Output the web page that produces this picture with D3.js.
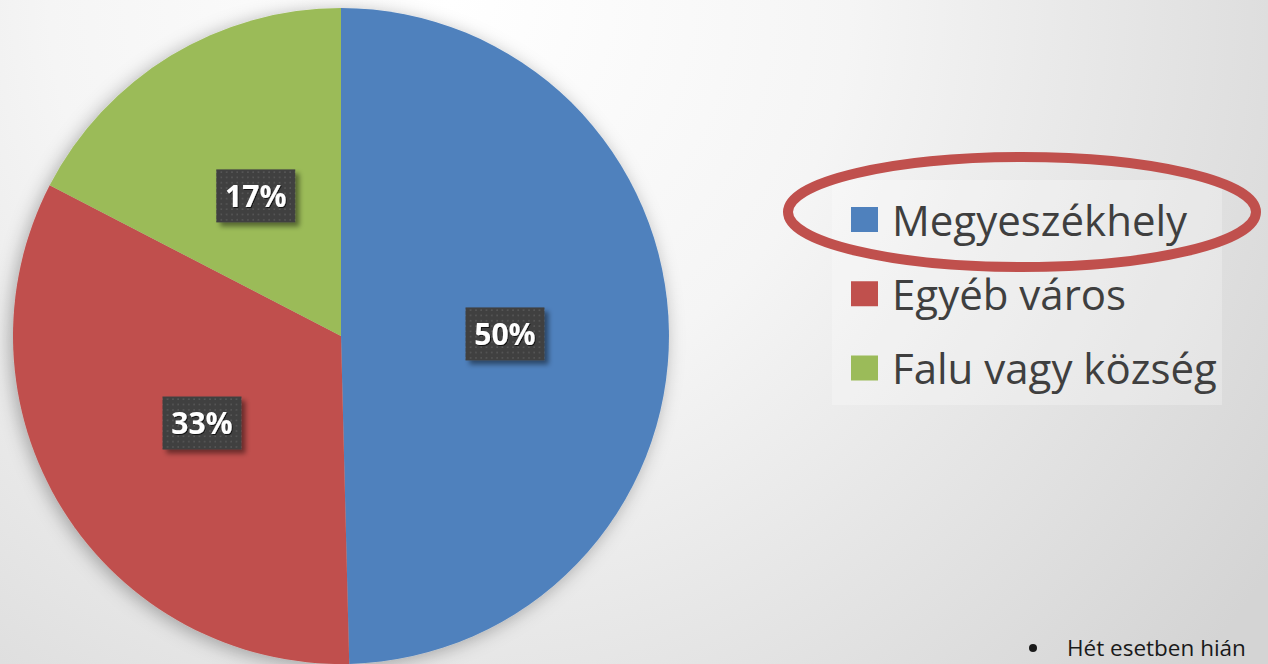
<!DOCTYPE html>
<html>
<head>
<meta charset="utf-8">
<script src="https://cdn.jsdelivr.net/npm/d3@7"></script>
<style>
  html, body { margin: 0; padding: 0; overflow: hidden; }
  svg { display: block; }
</style>
</head>
<body>
<div id="chart"></div>
<script>
const categories = ['Megyeszékhely', 'Egyéb város', 'Falu vagy község'];
const shares = [49.6, 33.0, 17.4];
const colors = ['#4F81BD', '#C0504D', '#9BBB59'];
const footnote = 'Hét esetben hián';

const width = 1268;
const height = 664;
const pieCenter = { x: 341, y: 336 };
const pieRadius = 328;

const svg = d3.select('#chart')
    .append('svg')
    .attr('width', width)
    .attr('height', height);

const defs = svg.append('defs');

// slide background
const bg = defs.append('radialGradient')
    .attr('id', 'bgGrad')
    .attr('gradientUnits', 'userSpaceOnUse')
    .attr('cx', 450).attr('cy', 0).attr('r', 1000);
bg.append('stop').attr('offset', '0%').attr('stop-color', '#ffffff');
bg.append('stop').attr('offset', '40%').attr('stop-color', '#f5f5f5');
bg.append('stop').attr('offset', '100%').attr('stop-color', '#d4d4d4');

const pieShadow = defs.append('filter')
    .attr('id', 'pieShadow')
    .attr('x', '-20%').attr('y', '-20%').attr('width', '140%').attr('height', '140%');
pieShadow.append('feDropShadow')
    .attr('dx', -3).attr('dy', 3).attr('stdDeviation', 9)
    .attr('flood-color', '#000').attr('flood-opacity', 0.3);

const boxShadow = defs.append('filter')
    .attr('id', 'boxShadow')
    .attr('x', '-20%').attr('y', '-20%').attr('width', '150%').attr('height', '160%');
boxShadow.append('feDropShadow')
    .attr('dx', 4).attr('dy', 4).attr('stdDeviation', 2.5)
    .attr('flood-color', '#000').attr('flood-opacity', 0.45);

const textShadow = defs.append('filter').attr('id', 'textShadow');
textShadow.append('feDropShadow')
    .attr('dx', 1).attr('dy', 1).attr('stdDeviation', 0.6)
    .attr('flood-color', '#000').attr('flood-opacity', 0.7);

// dotted fill of the data label boxes
const dots = defs.append('pattern')
    .attr('id', 'dots')
    .attr('patternUnits', 'userSpaceOnUse')
    .attr('width', 5.3).attr('height', 5.3);
dots.append('rect').attr('width', 5.3).attr('height', 5.3).attr('fill', '#404040');
dots.append('rect').attr('x', 2).attr('y', 2).attr('width', 1.5).attr('height', 1.5).attr('fill', '#5a5a5a');

svg.append('rect')
    .attr('width', width)
    .attr('height', height)
    .attr('fill', 'url(#bgGrad)');

// pie
const pie = d3.pie().sort(null).value((d) => d.value);
const arc = d3.arc().innerRadius(0).outerRadius(pieRadius);

const data = categories.map((c, i) => ({ name: c, value: shares[i], color: colors[i] }));
const arcs = pie(data);
const total = d3.sum(shares);
const fmt = d3.format('.0%');

const pieG = svg.append('g')
    .attr('transform', `translate(${pieCenter.x},${pieCenter.y})`);

pieG.append('g')
    .attr('filter', 'url(#pieShadow)')
    .selectAll('path')
    .data(arcs)
    .enter()
    .append('path')
    .attr('d', arc)
    .attr('fill', (d) => d.data.color);

const labels = pieG.selectAll('g.label')
    .data(arcs)
    .enter()
    .append('g')
    .attr('class', 'label')
    .attr('transform', (d) => `translate(${arc.centroid(d)})`);

labels.append('rect')
    .attr('x', -39.5).attr('y', -26.5)
    .attr('width', 79).attr('height', 53)
    .attr('fill', 'url(#dots)')
    .attr('filter', 'url(#boxShadow)');

labels.append('text')
    .attr('text-anchor', 'middle')
    .attr('y', 11)
    .attr('fill', '#ffffff')
    .attr('font-family', '"Open Sans", sans-serif')
    .attr('font-weight', 'bold')
    .attr('font-size', 30)
    .attr('filter', 'url(#textShadow)')
    .text((d) => fmt(d.data.value / total));

// legend
svg.append('rect')
    .attr('x', 832).attr('y', 180)
    .attr('width', 390).attr('height', 225)
    .attr('fill', '#ffffff').attr('opacity', 0.25);

const legendY = d3.scalePoint()
    .domain(categories)
    .range([219.5, 368]);

const legend = svg.append('g')
    .selectAll('g')
    .data(data)
    .enter()
    .append('g')
    .attr('transform', (d) => `translate(851,${legendY(d.name)})`);

legend.append('rect')
    .attr('x', 0).attr('y', -12.5)
    .attr('width', 27).attr('height', 25)
    .attr('fill', (d) => d.color);

legend.append('text')
    .attr('x', 41)
    .attr('y', 16)
    .attr('fill', '#3f3f3f')
    .attr('font-family', '"Open Sans", sans-serif')
    .attr('font-size', 42)
    .text((d) => d.name);

// highlight ellipse
svg.append('ellipse')
    .attr('cx', 1022).attr('cy', 212)
    .attr('rx', 234).attr('ry', 55)
    .attr('fill', 'none')
    .attr('stroke', '#C0504D')
    .attr('stroke-width', 10);

// footnote
svg.append('circle')
    .attr('cx', 1033).attr('cy', 648)
    .attr('r', 4)
    .attr('fill', '#1a1a1a');

svg.append('text')
    .attr('x', 1067).attr('y', 656)
    .attr('fill', '#1a1a1a')
    .attr('font-family', '"Open Sans", sans-serif')
    .attr('font-size', 22.5)
    .text(footnote);
</script>
</body>
</html>
